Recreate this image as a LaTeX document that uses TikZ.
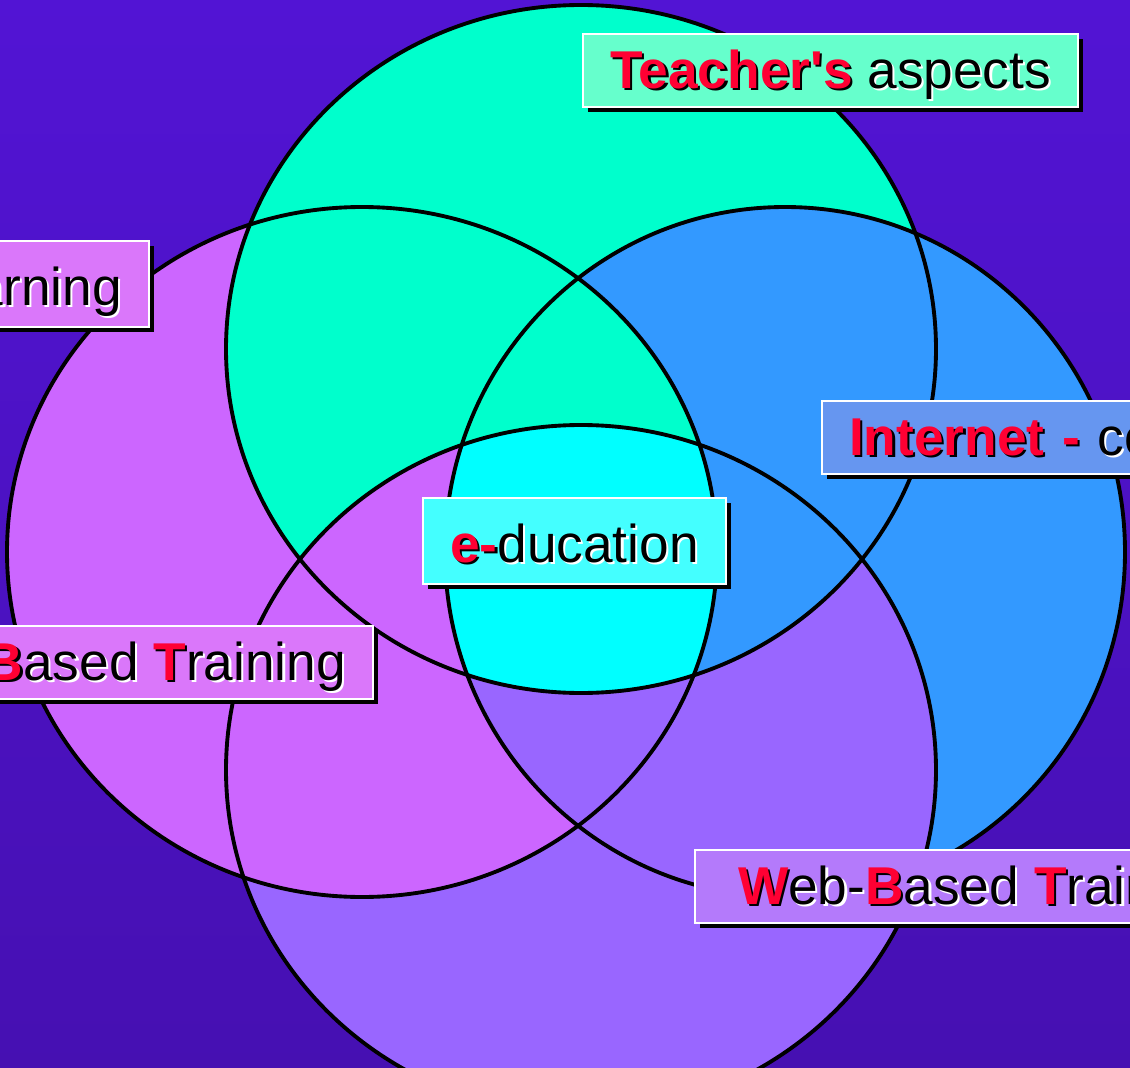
\documentclass[tikz,border=0pt]{standalone}
\usepackage{fontspec}
\setmainfont{Liberation Sans}
\usepackage{xcolor}
\usepackage{tikz}
\usetikzlibrary{shadows}

\definecolor{bgtop}{RGB}{82,20,212}
\definecolor{bgbot}{RGB}{70,16,178}
\definecolor{tcol}{RGB}{0,255,204}
\definecolor{lcol}{RGB}{204,102,255}
\definecolor{rcol}{RGB}{51,153,255}
\definecolor{bcol}{RGB}{153,102,255}
\definecolor{ccol}{RGB}{0,255,255}
\definecolor{teachbox}{RGB}{102,255,204}
\definecolor{learnbox}{RGB}{218,119,250}
\definecolor{inetbox}{RGB}{102,150,240}
\definecolor{webbox}{RGB}{180,122,251}
\definecolor{edubox}{RGB}{68,255,255}
\definecolor{txtred}{RGB}{255,0,51}

\newcommand{\redtxt}[1]{\rlap{\hspace{1.3pt}\raisebox{-1.3pt}{\color{black}\bfseries #1}}{\color{txtred}\bfseries #1}}
\newcommand{\blktxt}[1]{\rlap{\hspace{1.3pt}\raisebox{-1.3pt}{\color{white}#1}}{\color{black}#1}}

\def\ellT{(581,349) ellipse [x radius=355, y radius=344]}
\def\ellL{(362,552) ellipse [x radius=355, y radius=345]}
\def\ellR{(785,552) ellipse [x radius=340, y radius=345]}
\def\ellB{(581,770) ellipse [x radius=355, y radius=345]}

\tikzstyle{ring} = [draw=black, line width=2.2pt]
\tikzstyle{lbl} = [draw=white, line width=1.3pt, inner ysep=0pt, inner xsep=0.54cm, text height=1.08cm, text depth=0.38cm, font=\fontsize{30.3}{36}\selectfont, drop shadow={shadow xshift=0.1cm, shadow yshift=-0.1cm, fill=black, opacity=1}]
\tikzstyle{tall lbl} = [lbl, text height=1.28cm, text depth=0.44cm]

\begin{document}
\begin{tikzpicture}[x=0.02cm, y=-0.02cm]
  \useasboundingbox (0,0) rectangle (1130,1068);
  \clip (0,0) rectangle (1130,1068);
  \shade[top color=bgtop, bottom color=bgbot] (0,0) rectangle (1130,1068);

  % circles
  \fill[lcol] \ellL;
  \fill[rcol] \ellR;
  \fill[bcol] \ellB;
  \fill[tcol] \ellT;

  % two at a time
  \begin{scope} \clip \ellT; \fill[tcol] \ellL; \end{scope}
  \begin{scope} \clip \ellT; \fill[rcol] \ellR; \end{scope}
  \begin{scope} \clip \ellL; \fill[lcol] \ellB; \end{scope}
  \begin{scope} \clip \ellR; \fill[bcol] \ellB; \end{scope}

  % three at a time
  \begin{scope} \clip \ellT; \clip \ellL; \fill[tcol] \ellR; \end{scope}
  \begin{scope} \clip \ellT; \clip \ellL; \fill[lcol] \ellB; \end{scope}
  \begin{scope} \clip \ellT; \clip \ellR; \fill[rcol] \ellB; \end{scope}
  \begin{scope} \clip \ellL; \clip \ellR; \fill[bcol] \ellB; \end{scope}

  % all four
  \begin{scope} \clip \ellT; \clip \ellL; \clip \ellR; \fill[ccol] \ellB; \end{scope}

  \draw[ring] \ellT;
  \draw[ring] \ellL;
  \draw[ring] \ellR;
  \draw[ring] \ellB;

  \node (teach asp) [lbl, fill=teachbox, anchor=north west] at (582,33) {\redtxt{Teacher\textquotesingle s} \blktxt{aspects}};
  \node (learn) [tall lbl, fill=learnbox, anchor=north east] at (150,240) {\blktxt{arning}};
  \node (cbt) [lbl, fill=learnbox, anchor=north east] at (374,625) {\redtxt{B}\blktxt{ased} \redtxt{T}\blktxt{raining}};
  \node (inet) [lbl, fill=inetbox, anchor=north west, text width=8cm, align=left] at (821,400) {\redtxt{Internet -} \blktxt{co}};
  \node (wbt) [lbl, fill=webbox, anchor=north west, inner xsep=0.86cm] at (694,849) {\redtxt{W}\blktxt{eb-}\redtxt{B}\blktxt{ased} \redtxt{T}\blktxt{raining}};
  \node (edu) [tall lbl, fill=edubox, anchor=north west] at (422,497) {\redtxt{e-}\blktxt{ducation}};

\end{tikzpicture}
\end{document}
